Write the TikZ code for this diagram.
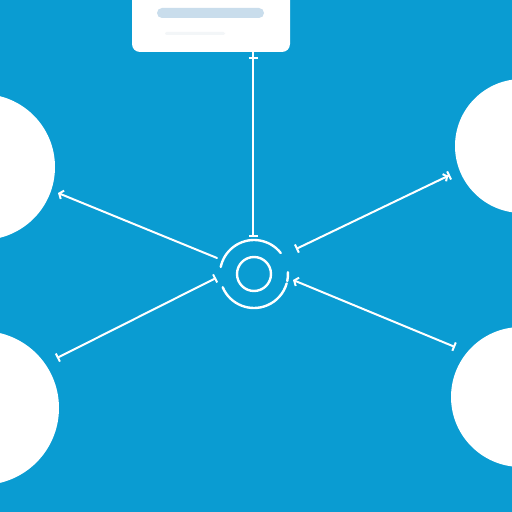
\documentclass[tikz,border=0pt]{standalone}
\usetikzlibrary{arrows.meta}
\definecolor{bg}{HTML}{0A9CD2}
\definecolor{barc}{HTML}{C9DDEC}
\definecolor{faint}{HTML}{F3F6F8}
\tikzset{
  blob/.style={circle, fill=white, draw=none, inner sep=0pt},
  link/.style={draw=white, line width=2pt, line cap=round},
  ringline/.style={draw=white, line width=2.4pt, line cap=round},
}
\begin{document}
\begin{tikzpicture}[x=1pt,y=1pt]
\useasboundingbox (0,0) rectangle (512,512);
\fill[bg] (0,0) rectangle (512,512);
% white circles
\node[blob, minimum size=146pt] (lt) at (-18,345) {};
\node[blob, minimum size=154pt] (lb) at (-18,104) {};
\node[blob, minimum size=134pt] (rt) at (522,366) {};
\node[blob, minimum size=140pt] (rb) at (521,115) {};
% top box
\node[fill=white, rounded corners=8pt, minimum width=158pt, minimum height=62pt, inner sep=0pt] (topbox) at (211,491) {};
\fill[barc, rounded corners=5pt] (157,494) rectangle (264,504);
\fill[faint, rounded corners=2pt] (165,477) rectangle (225,480);
% hub
\coordinate (hub) at (254,238);
\draw[ringline] (hub) ++(38:34) arc[start angle=38, end angle=168, radius=34];
\draw[ringline] (hub) ++(203:34) arc[start angle=203, end angle=344, radius=34];
\draw[ringline] (hub) ++(-12:34) arc[start angle=-12, end angle=3, radius=34];
\node[circle, draw=white, line width=2.4pt, minimum size=34pt, inner sep=0pt] (inner) at (hub) {};
% connector end points
\coordinate (tA) at (253,455);
\coordinate (tB) at (253,275);
\coordinate (ulA) at (217,254);
\coordinate (ulB) at (58,319);
\coordinate (llA) at (216,234);
\coordinate (llB) at (57,154);
\coordinate (urA) at (296,263);
\coordinate (urB) at (450,337);
\coordinate (lrA) at (293,232);
\coordinate (lrB) at (455,165);
\draw[white, line width=1.6pt] (topbox.south -| tA) -- (tA);
\draw[link, {Bar[width=9pt]}-{Bar[width=9pt]}] (tA) -- (tB);
\draw[link, -{Straight Barb[length=3.5pt,width=9pt]}] (ulA) -- (ulB);
\draw[link, {Bar[width=9pt]}-{Bar[width=9pt]}] (llA) -- (llB);
\draw[link, {Bar[width=9pt]}-{Straight Barb[length=3pt,width=8pt]Bar[width=9pt]}] (urA) -- (urB);
\draw[link, {Straight Barb[length=3.5pt,width=9pt]}-{Bar[width=9pt]}] (lrA) -- (lrB);
\end{tikzpicture}
\end{document}
